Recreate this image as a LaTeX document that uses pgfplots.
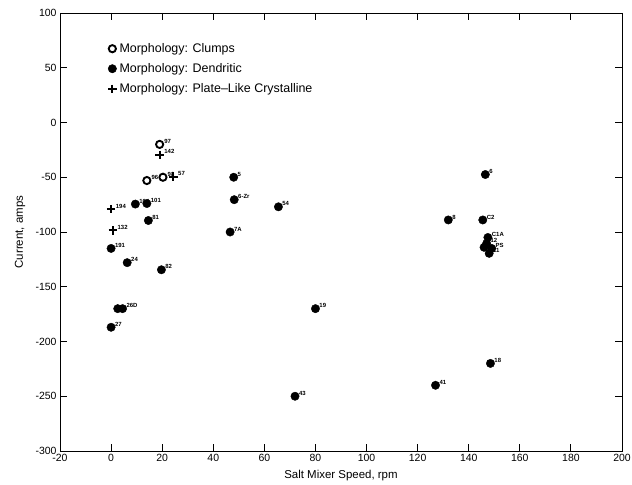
\documentclass[border=0pt]{standalone}
\usepackage{fontspec}
\setmainfont{Liberation Sans}
\usepackage{pgfplots}
\pgfplotsset{compat=1.18}
\usepackage{pgfplotstable}

\pgfplotstableread{
x y lab
19.0 -20.0 97
14.0 -53.0 96
20.3 -50.0 98
}\clumps

\pgfplotstableread{
x y lab
9.5 -74.5 104
14.0 -74.0 101
14.6 -89.5 81
0.0 -115.0 191
6.3 -128.0 24
19.7 -134.5 82
2.6 -170.0 {}
4.5 -170.0 26D
0.0 -187.0 27
48.0 -50.0 5
48.2 -70.5 6-Zr
46.6 -100.0 7A
65.5 -77.0 54
80.0 -170.0 19
72.0 -250.0 43
127.0 -240.0 41
148.5 -220.0 18
146.5 -47.5 6
132.0 -89.0 8
145.5 -89.0 C2
147.5 -105.0 C1A
146.0 -114.0 {}
147.0 -110.5 12
149.0 -115.0 PS
148.0 -119.5 11
}\dendritic

\pgfplotstableread{
x y lab
19.0 -29.5 142
24.4 -49.5 57
0.0 -79.0 194
0.7 -98.5 132
}\plate

\begin{document}
\begin{tikzpicture}
\begin{axis}[
  scale only axis,
  width=562bp, height=438bp,
  xmin=-20, xmax=200, ymin=-300, ymax=100,
  xtick={-20,0,...,200},
  ytick={-300,-250,...,100},
  xtick pos=both, ytick pos=both,
  tick align=inside,
  major tick length=7bp,
  axis line style={line width=0.9pt},
  tick style={line width=0.9pt, black},
  tick label style={font=\fontsize{10.5}{12}\selectfont},
  label style={font=\fontsize{11.5}{13}\selectfont},
  /pgf/number format/assume math mode=true,
  xlabel={Salt Mixer Speed, rpm},
  ylabel={Current, amps},
  xlabel style={at={(axis description cs:0.5,-0.055)}, anchor=center},
  ylabel style={at={(axis description cs:-0.071,0.5)}, anchor=center},
  legend style={draw=none, fill=none, at={(0.08,0.94)}, anchor=north west,
    font=\fontsize{12.5}{15}\selectfont, row sep=5.5bp,
    nodes={inner xsep=3bp}},
  legend cell align=left,
  every node near coord/.style={anchor=west, inner sep=0.3pt,
    font=\fontsize{6}{6}\selectfont\bfseries, xshift=3.5bp, yshift=3bp},
]
\addplot[only marks, mark=o, mark size=3.6bp, line width=1.9pt, black,
  mark options={fill=white},
  nodes near coords, point meta=explicit symbolic]
  table[x=x, y=y, meta=lab] {\clumps};
\addlegendentry{Morphology: Clumps}
\addplot[only marks, mark=*, mark size=4.2bp, black,
  nodes near coords, point meta=explicit symbolic]
  table[x=x, y=y, meta=lab] {\dendritic};
\addlegendentry{Morphology: Dendritic}
\addplot[only marks, mark=+, mark size=4.2bp, line width=2pt, black,
  nodes near coords, point meta=explicit symbolic]
  table[x=x, y=y, meta=lab] {\plate};
\addlegendentry{Morphology: Plate--Like Crystalline}
\end{axis}
\pgfresetboundingbox
\path ([shift={(-60bp,-34bp)}]current axis.south west)
  rectangle ([shift={(10bp,13bp)}]current axis.north east);
\end{tikzpicture}
\end{document}
